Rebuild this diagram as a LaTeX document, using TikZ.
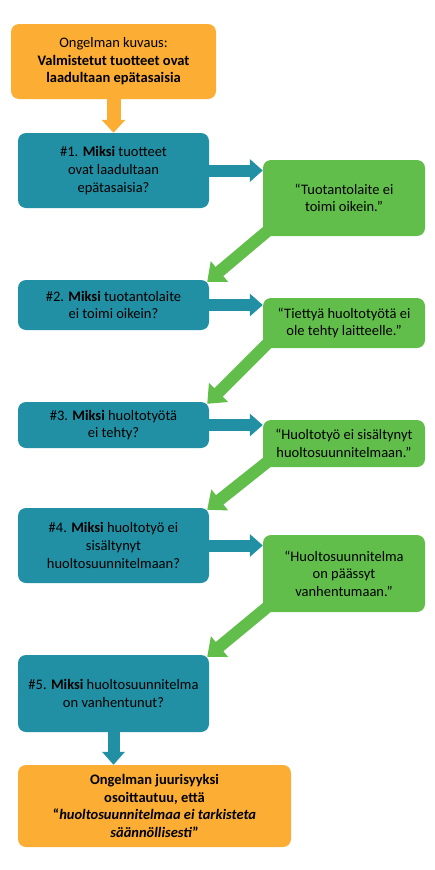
\documentclass[tikz,border=0pt]{standalone}
\usepackage{fontspec}
\setmainfont{Carlito}
\usetikzlibrary{arrows.meta,backgrounds}
\definecolor{boxorange}{RGB}{251,173,52}
\definecolor{boxteal}{RGB}{33,144,164}
\definecolor{boxgreen}{RGB}{98,190,75}
\begin{document}
\begin{tikzpicture}[x=1pt,y=-1pt,
  every node/.style={font=\fontsize{14.5}{17.6}\selectfont, align=center, text=black, inner sep=0pt},
  basebox/.style={rectangle, rounded corners=8pt, minimum width=191pt},
  obox/.style={basebox, fill=boxorange},
  tbox/.style={basebox, fill=boxteal},
  gbox/.style={basebox, fill=boxgreen, minimum width=162pt},
  oarrow/.style={draw=boxorange, line width=14pt, -{Triangle[width=23pt,length=13pt]}},
  tarrow/.style={draw=boxteal, line width=12pt, -{Triangle[width=22pt,length=13pt]}},
  garrow/.style={draw=boxgreen, line width=12pt, -{Triangle[width=26pt,length=16pt]}}]
\useasboundingbox (0,0) rectangle (435,870);
\node[obox, minimum width=205pt, minimum height=75pt] (top) at (113.5,61.5)
  {Ongelman kuvaus:\\\textbf{Valmistetut tuotteet ovat}\\\textbf{laadultaan epätasaisia}};
\node[tbox, minimum height=75pt] (b1) at (113.5,170.5)
  {\#1. \textbf{Miksi} tuotteet\\ovat laadultaan\\epätasaisia?};
\node[gbox, minimum height=76pt] (g1) at (344,198)
  {“Tuotantolaite ei\\toimi oikein.”};
\node[tbox, minimum height=50pt] (b2) at (113.5,305)
  {\#2. \textbf{Miksi} tuotantolaite\\ei toimi oikein?};
\node[gbox, minimum height=50pt] (g2) at (344,323)
  {“Tiettyä huoltotyötä ei\\ole tehty laitteelle.”};
\node[tbox, minimum height=46pt] (b3) at (113.5,425)
  {\#3. \textbf{Miksi} huoltotyötä\\ei tehty?};
\node[gbox, minimum height=47pt] (g3) at (344,443.5)
  {“Huoltotyö ei sisältynyt\\huoltosuunnitelmaan.”};
\node[tbox, minimum height=75pt] (b4) at (113.5,545.5)
  {\#4. \textbf{Miksi} huoltotyö ei\\sisältynyt\\huoltosuunnitelmaan?};
\node[gbox, minimum height=77pt] (g4) at (344,573.5)
  {“Huoltosuunnitelma\\on päässyt\\vanhentumaan.”};
\node[tbox, minimum height=77pt] (b5) at (113.5,693.5)
  {\#5. \textbf{Miksi} huoltosuunnitelma\\on vanhentunut?};
\node[obox, minimum width=273pt, minimum height=82pt] (bot) at (154.5,806)
  {\textbf{Ongelman juurisyyksi}\\\textbf{osoittautuu, että}\\\textbf{“\textit{huoltosuunnitelmaa ei tarkisteta}}\\\textbf{\textit{säännöllisesti}”}};
\begin{scope}[on background layer]
\draw[oarrow] (top.south) -- (b1.north);
\draw[tarrow] (b1.east) -- (b1.east -| g1.west);
\draw[tarrow] (b2.east) -- (b2.east -| g2.west);
\draw[tarrow] (b3.east) -- (b3.east -| g3.west);
\draw[tarrow] (b4.east) -- (b4.east -| g4.west);
\draw[tarrow] (b5.south) -- (b5.south |- bot.north);
\draw[garrow] ([shift={(8,-8)}]g1.south west) -- ([shift={(-2,2)}]b2.north east);
\draw[garrow] ([shift={(8,-8)}]g2.south west) -- ([shift={(-2,2)}]b3.north east);
\draw[garrow] ([shift={(8,-8)}]g3.south west) -- ([shift={(-2,2)}]b4.north east);
\draw[garrow] ([shift={(8,-8)}]g4.south west) -- ([shift={(-2,2)}]b5.north east);
\end{scope}
\end{tikzpicture}
\end{document}
